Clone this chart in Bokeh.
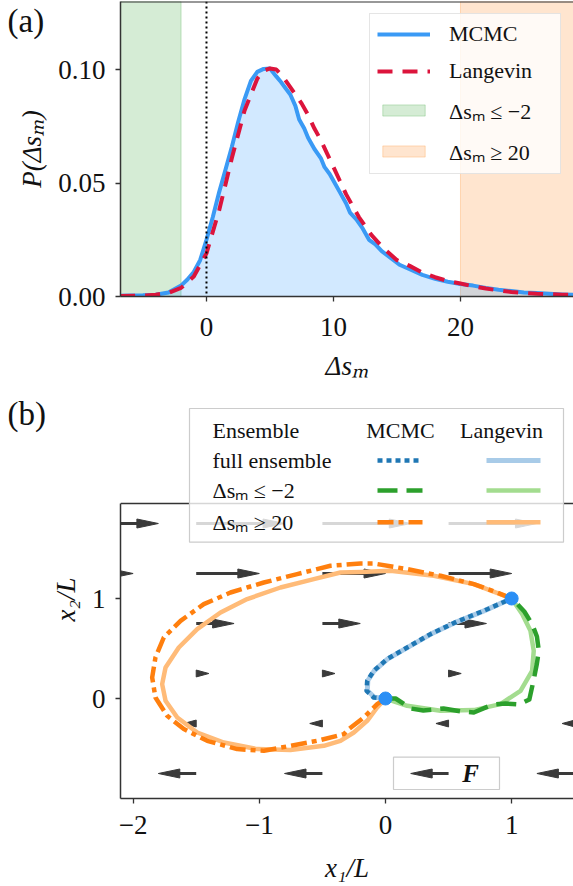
import numpy as np
from bokeh.plotting import figure
from bokeh.layouts import column
from bokeh.models import (Range1d, FixedTicker, PrintfTickFormatter, CustomJSTickFormatter,
                          Span, Legend, LegendItem, Label)
from bokeh.core.properties import value
from bokeh.embed import file_html
from bokeh.resources import INLINE

# ------------------------- panel (a) data -------------------------
ds_mcmc = [-6.8, -5, -4, -3, -2, -1.5, -1, -0.5, 0, 0.5, 1, 1.5, 2, 2.5, 3, 3.5, 4, 4.5, 5,
           5.5, 5.8, 6.2, 6.6, 7, 7.3, 7.7, 8, 8.5, 9, 9.3, 9.7, 10, 10.5, 11, 11.3, 11.8,
           12.3, 12.8, 13.3, 13.8, 14.5, 15.2, 16, 17, 18, 19, 20, 21, 22, 23, 24, 25, 26,
           27, 28, 29]
p_mcmc = [0.0003, 0.0005, 0.0008, 0.0018, 0.0048, 0.0075, 0.0108, 0.016, 0.025, 0.035, 0.046,
          0.056, 0.066, 0.077, 0.087, 0.095, 0.099, 0.1003, 0.1005, 0.097, 0.095, 0.092, 0.089,
          0.084, 0.078, 0.074, 0.070, 0.065, 0.061, 0.057, 0.054, 0.051, 0.046, 0.041, 0.037,
          0.034, 0.030, 0.025, 0.023, 0.020, 0.017, 0.014, 0.012, 0.0095, 0.0078, 0.0065,
          0.0055, 0.0048, 0.0038, 0.0030, 0.0024, 0.0018, 0.0015, 0.0012, 0.0009, 0.0007]
ds_lang = [-6.8, -5, -4, -3, -2, -1, 0, 1, 2, 3, 4, 4.5, 5, 5.5, 6, 6.5, 7, 7.5, 8, 8.5, 9,
           9.5, 10, 10.5, 11, 11.5, 12, 12.5, 13, 13.5, 14, 15, 16, 17, 18, 19, 20, 21, 22,
           23, 24, 25, 26, 27, 28, 29]
p_lang = [0.0002, 0.0004, 0.0008, 0.0016, 0.0038, 0.0088, 0.019, 0.038, 0.061, 0.082, 0.096,
          0.0995, 0.1005, 0.100, 0.097, 0.093, 0.089, 0.085, 0.080, 0.074, 0.069, 0.063,
          0.057, 0.051, 0.045, 0.040, 0.035, 0.031, 0.027, 0.024, 0.021, 0.016, 0.0135,
          0.0105, 0.0085, 0.0068, 0.0057, 0.0045, 0.0035, 0.0027, 0.0020, 0.0015, 0.0012,
          0.0010, 0.0008, 0.0007]
thr_low = -2
thr_high = 20
a_xticks = [0, 10, 20]
a_yticks = [0.0, 0.05, 0.10]

# ------------------------- panel (b) data -------------------------
field_x = [-2.5, -1.5, -0.5, 0.5, 1.5]            # arrow tails (x1/L)
field_y = [-0.75, -0.25, 0.25, 0.75, 1.25, 1.75]   # arrow rows (x2/L)
field_u = [-0.30, -0.10, 0.10, 0.30, 0.50, 0.70]   # arrow length per row

full_mcmc_x = [0, -0.093, -0.150, -0.145, -0.093, 0.013, 0.172, 0.357, 0.568, 0.779, 1.0]
full_mcmc_y = [0, 0.010, 0.077, 0.177, 0.277, 0.394, 0.510, 0.644, 0.770, 0.877, 1.0]
full_lang_x = [0, -0.088, -0.144, -0.140, -0.088, 0.018, 0.176, 0.360, 0.570, 0.780, 1.0]
full_lang_y = [0, 0.012, 0.080, 0.180, 0.280, 0.396, 0.511, 0.644, 0.769, 0.876, 1.0]

low_mcmc_x = [0, 0.08, 0.20, 0.30, 0.46, 0.60, 0.70, 0.85, 0.95, 1.06, 1.14, 1.175, 1.20,
              1.215, 1.20, 1.162, 1.10, 1.04, 1.0]
low_mcmc_y = [0, 0.0, -0.10, -0.12, -0.10, -0.13, -0.14, -0.06, -0.05, -0.06, -0.01, 0.19,
              0.35, 0.477, 0.62, 0.744, 0.87, 0.95, 1.0]
low_lang_x = [0, 0.172, 0.436, 0.70, 0.911, 1.07, 1.162, 1.175, 1.149, 1.083, 1.0]
low_lang_y = [0, -0.073, -0.123, -0.116, -0.056, 0.077, 0.277, 0.477, 0.677, 0.844, 1.0]

high_mcmc_x = [0, -0.066, -0.172, -0.290, -0.330, -0.541, -0.753, -0.964, -1.175, -1.413,
               -1.598, -1.730, -1.823, -1.849, -1.823, -1.757, -1.624, -1.440, -1.228,
               -0.964, -0.700, -0.436, -0.198, -0.093, 0.172, 0.436, 0.700, 0.885, 1.0]
high_mcmc_y = [0, -0.056, -0.190, -0.306, -0.356, -0.423, -0.473, -0.523, -0.506, -0.423,
               -0.306, -0.173, 0.010, 0.210, 0.410, 0.610, 0.777, 0.944, 1.060, 1.160,
               1.244, 1.327, 1.350, 1.350, 1.294, 1.227, 1.144, 1.060, 1.0]
high_lang_x = [0, -0.066, -0.145, -0.251, -0.357, -0.489, -0.753, -1.017, -1.281, -1.492,
               -1.650, -1.743, -1.770, -1.743, -1.638, -1.492, -1.307, -1.096, -0.832,
               -0.568, -0.357, -0.198, 0.040, 0.383, 0.700, 1.0]
high_lang_y = [0, -0.090, -0.223, -0.340, -0.423, -0.473, -0.516, -0.506, -0.440, -0.340,
               -0.190, -0.023, 0.144, 0.310, 0.510, 0.694, 0.860, 0.994, 1.110, 1.194,
               1.260, 1.265, 1.277, 1.227, 1.144, 1.0]

end_x = [0, 1]
end_y = [0, 1]
b_xticks = [-2, -1, 0, 1]
b_yticks = [0, 1]

legend_rows = ["Ensemble", "full ensemble", "Δsₘ ≤ −2", "Δsₘ ≥ 20"]

# ------------------------- styles -------------------------
FONT = "serif"
AX = "#333333"
W = 573
H1 = 385
H2 = 886 - H1
EXTRA = 60          # strip on top holding the panel tag, pulled up by a negative margin


def style_axes(p):
    for ax in list(p.xaxis) + list(p.yaxis):
        ax.axis_line_color = AX
        ax.axis_line_width = 1.5
        ax.major_tick_line_color = AX
        ax.major_tick_line_width = 1.3
        ax.major_tick_out = 5
        ax.major_tick_in = 0
        ax.minor_tick_line_color = None
        ax.major_label_text_font = FONT
        ax.major_label_text_font_size = "27px"
        ax.major_label_text_color = "#111111"
        ax.major_label_standoff = 10
        ax.axis_label_text_font = FONT
        ax.axis_label_text_font_size = "27px"
        ax.axis_label_text_color = "#111111"
        ax.axis_label_standoff = 8
    p.xgrid.visible = False
    p.ygrid.visible = False
    p.outline_line_color = None
    p.background_fill_color = "white"


# ========================= panel (a) =========================
AX0, AX1 = -6.77, 28.9
AY0, AY1 = 0.0, 0.13
pa = figure(width=W, height=H1 + EXTRA, x_range=Range1d(AX0, AX1), y_range=Range1d(AY0, AY1),
            output_backend="svg", toolbar_location=None, margin=(-EXTRA, 0, 0, 0),
            min_border_left=120, min_border_right=0, min_border_top=1 + EXTRA,
            min_border_bottom=89)
style_axes(pa)
pa.border_fill_color = "white"
pa.xaxis.ticker = FixedTicker(ticks=a_xticks)
pa.yaxis.ticker = FixedTicker(ticks=a_yticks)
pa.yaxis.formatter = PrintfTickFormatter(format="%.2f")
pa.xaxis.major_label_standoff = 16
pa.xaxis.axis_label_standoff = 12
pa.xaxis.axis_label = "Δsₘ"
pa.yaxis.axis_label = "P(Δsₘ)"
pa.yaxis.axis_label_text_font_style = "italic"
pa.xaxis.axis_label_text_font_style = "italic"

r_low = pa.quad(left=AX0, right=thr_low, bottom=AY0, top=AY1, fill_color="#2ca02c",
                fill_alpha=0.2, line_color="#2ca02c", line_alpha=0.25, line_width=1)
r_high = pa.quad(left=thr_high, right=AX1, bottom=AY0, top=AY1, fill_color="#ff7f0e",
                 fill_alpha=0.2, line_color="#ff7f0e", line_alpha=0.25, line_width=1)
pa.varea(x=ds_mcmc, y1=[0] * len(ds_mcmc), y2=p_mcmc, fill_color="#1e90ff", fill_alpha=0.2)
r_mcmc = pa.line(ds_mcmc, p_mcmc, line_color="#3a9af5", line_width=4, line_join="round")
r_lang = pa.line(ds_lang, p_lang, line_color="#dc143c", line_width=4, line_dash="15 10")

pa.add_layout(Span(location=0, dimension="height", line_color="black", line_width=2,
                   line_dash="2 3"))
pa.add_layout(Span(location=AY1, dimension="width", line_color=AX, line_width=2))

leg = Legend(items=[LegendItem(label="MCMC", renderers=[r_mcmc]),
                    LegendItem(label="Langevin", renderers=[r_lang]),
                    LegendItem(label="Δsₘ ≤ −2", renderers=[r_low]),
                    LegendItem(label="Δsₘ ≥ 20", renderers=[r_high])],
             location="top_right", margin=12, glyph_width=53, glyph_height=14,
             label_standoff=19, label_width=104, label_height=26, spacing=11, padding=7,
             label_text_font=FONT, label_text_font_size="22px", label_text_color="#111111",
             border_line_color="#cccccc", border_line_width=1.2, background_fill_alpha=0.8)
pa.add_layout(leg)
A_PX = (AX1 - AX0) / 453.0
A_PY = (AY1 - AY0) / 295.0
pa.add_layout(Label(x=AX0 - 113 * A_PX, y=AY1 - 1 * A_PY, text="(a)",
                    text_font=FONT, text_font_size="33px", text_baseline="top",
                    text_align="left", text_color="#111111"), "above")

# ========================= panel (b) =========================
BX0, BX1 = -2.1, 1.49
BY0, BY1 = -1.0, 2.98
B_SPINE = 1.95
pb = figure(width=W, height=H2 + EXTRA, x_range=Range1d(BX0, BX1), y_range=Range1d(BY0, BY1),
            output_backend="svg", toolbar_location=None, margin=(-EXTRA, 0, 0, 0),
            min_border_left=120, min_border_right=0, min_border_top=15 + EXTRA,
            min_border_bottom=88)
style_axes(pb)
pb.border_fill_alpha = 0.0
pb.xaxis.ticker = FixedTicker(ticks=b_xticks)
pb.yaxis.ticker = FixedTicker(ticks=b_yticks)
pb.xaxis.formatter = CustomJSTickFormatter(
    code="return (tick < 0 ? '\\u2212' : '') + Math.abs(tick).toString();")
pb.xaxis.major_label_standoff = 12
pb.xaxis.axis_label_standoff = 16
pb.yaxis.bounds = (BY0, B_SPINE)
pb.xaxis.axis_label = "x₁/L"
pb.yaxis.axis_label = "x₂/L"
pb.xaxis.axis_label_text_font_style = "italic"
pb.yaxis.axis_label_text_font_style = "italic"

# canvas-pixel helpers for the frame of panel (b): frame spans x 120..573, y 400..798
FR_L, FR_W = 120, 453
FR_TOP, FR_H = 400, 398


def bx(px):
    return BX0 + (px - FR_L) * (BX1 - BX0) / FR_W


def by(py):
    return BY1 - (py - FR_TOP) * (BY1 - BY0) / FR_H


top_spine = Span(location=B_SPINE, dimension="width", line_color=AX, line_width=1.5)
top_spine.level = "underlay"
pb.add_layout(top_spine)

# force legend box (behind its arrow)
pb.quad(left=bx(393), right=bx(499), top=by(756.7), bottom=by(789), fill_color="white",
        line_color="#cccccc", line_width=1.2)

# force field arrows
ARC = "#3a3a3a"
sx0, sx1, sy0, tri_xs, tri_ys = [], [], [], [], []
HL_FULL = 0.17
for yy, uu in zip(field_y, field_u):
    for xx in field_x:
        sgn = 1 if uu > 0 else -1
        L = abs(uu)
        hl = min(HL_FULL, L)
        hw = 0.045 * np.sqrt(hl / HL_FULL)
        tip = xx + uu
        base = tip - sgn * hl
        if L > hl:
            sx0.append(xx)
            sx1.append(base + sgn * 0.02)
            sy0.append(yy)
        tri_xs.append([tip, base, base])
        tri_ys.append([yy, yy + hw, yy - hw])
pb.segment(x0=sx0, y0=sy0, x1=sx1, y1=sy0, line_color=ARC, line_width=3)
pb.patches(xs=tri_xs, ys=tri_ys, fill_color=ARC, line_color=ARC, line_width=1)

pb.text(x=[bx(470)], y=[by(773)], text=["F"], text_font=value(FONT), text_font_size="25px",
        text_font_style="bold italic", text_align="center", text_baseline="middle",
        text_color="#111111")

# trajectories
S_FULL_M = dict(line_color="#1f77b4", line_width=4.5, line_dash="5 4")
S_FULL_L = dict(line_color="#a8cbe8", line_width=5)
S_LOW_M = dict(line_color="#2ca02c", line_width=4.5, line_dash="20 9")
S_LOW_L = dict(line_color="#a3dc8f", line_width=4.5)
S_HIGH_M = dict(line_color="#ff7f0e", line_width=4.5, line_dash="16 5 5 5")
S_HIGH_L = dict(line_color="#ffbb78", line_width=4.5)

pb.line(full_lang_x, full_lang_y, line_join="round", **S_FULL_L)
pb.line(low_lang_x, low_lang_y, line_join="round", **S_LOW_L)
pb.line(high_lang_x, high_lang_y, line_join="round", **S_HIGH_L)
pb.line(full_mcmc_x, full_mcmc_y, line_join="round", **S_FULL_M)
pb.line(low_mcmc_x, low_mcmc_y, line_join="round", **S_LOW_M)
pb.line(high_mcmc_x, high_mcmc_y, line_join="round", **S_HIGH_M)

pb.scatter(end_x, end_y, size=13, fill_color="#2b8ff5", line_color="#2b8ff5")

# table legend
pb.quad(left=bx(189), right=bx(563), top=by(408), bottom=by(541.7), fill_color="white",
        fill_alpha=0.8, line_color="#cccccc", line_width=1.2)
row_py = [430, 460, 490, 521.7]
pb.text(x=[bx(212)] * 4, y=[by(v) for v in row_py], text=legend_rows, text_font=value(FONT),
        text_font_size="22px", text_baseline="middle", text_align="left", text_color="#111111")
pb.text(x=[bx(400), bx(501)], y=[by(row_py[0])] * 2, text=["MCMC", "Langevin"],
        text_font=value(FONT), text_font_size="22px", text_baseline="middle",
        text_align="center", text_color="#111111")
for rpy, sm, sl in zip(row_py[1:], [S_FULL_M, S_LOW_M, S_HIGH_M], [S_FULL_L, S_LOW_L, S_HIGH_L]):
    pb.line([bx(377), bx(422)], [by(rpy)] * 2, **sm)
    pb.line([bx(486), bx(540)], [by(rpy)] * 2, **sl)

B_PX = (BX1 - BX0) / FR_W
B_PY = (BY1 - BY0) / FR_H
pb.add_layout(Label(x=BX0 - 113 * B_PX, y=BY1 + 5 * B_PY, text="(b)",
                    text_font=FONT, text_font_size="33px", text_baseline="top",
                    text_align="left", text_color="#111111"), "above")

layout = column(pa, pb, spacing=0)
open("out.html", "w").write(file_html(layout, INLINE))
